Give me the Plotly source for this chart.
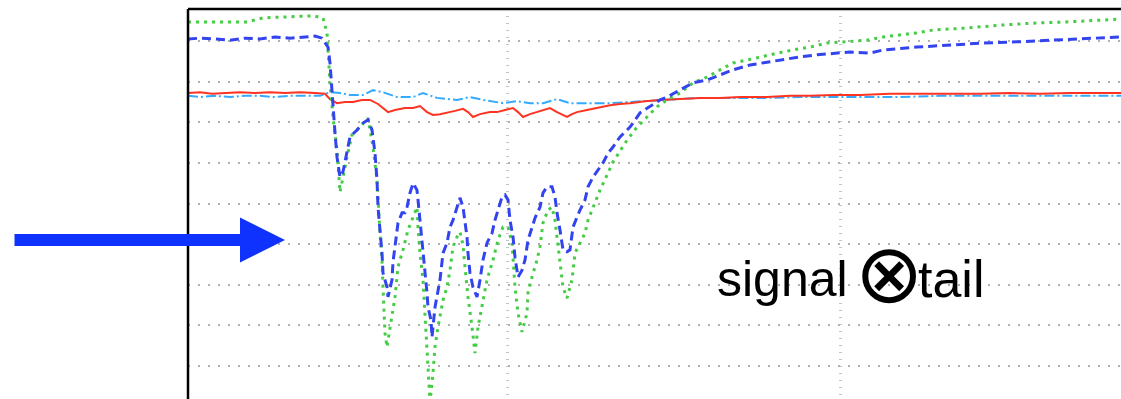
import plotly.graph_objects as go

# time (ms) and level values
blue_x = [4.2, 7.8, 12.3, 16.8, 21.3, 25.8, 30.3, 34.8, 39.3, 42.3, 44.4, 46.2, 46.8, 47.4, 48.0, 48.3, 48.9, 49.8,
          50.7, 51.9, 52.8, 54.9, 56.7, 58.2, 59.4, 60.3, 60.9, 61.2, 61.8, 62.4, 62.7, 63.9, 64.2, 65.4, 65.7,
          66.3, 67.2, 68.4, 69.3, 69.9, 70.8, 71.7, 72.9, 73.2, 73.8, 74.7, 75.3, 75.9, 76.2, 77.1, 77.4, 78.3,
          79.8, 80.7, 81.9, 82.8, 83.7, 84.9, 85.8, 86.7, 87.3, 87.9, 88.2, 88.8, 89.7, 90.9, 91.8, 92.7, 93.9,
          95.4, 96.3, 97.2, 98.4, 99.3, 100.2, 100.8, 101.7, 102.3, 103.2, 104.4, 105.3, 106.2, 107.4, 108.3,
          109.8, 110.7, 111.9, 113.4, 114.3, 114.9, 115.8, 116.7, 117.9, 118.8, 119.7, 120.9, 121.8, 123.3,
          124.2, 125.7, 127.2, 128.7, 130.2, 131.7, 133.8, 136.8, 139.8, 142.8, 145.8, 147.9, 151.8, 155.7,
          159.9, 163.8, 167.7, 172.8, 177.9, 182.7, 187.8, 192.9, 197.7, 202.8, 208.8, 212.7, 222.9, 232.8,
          242.7, 252.9, 262.8, 272.7, 284.1]
blue_y = [80.5, 80.7, 80.5, 80.2, 80.7, 80.5, 81.0, 80.7, 81.0, 81.2, 80.7, 78.5, 74.6, 67.2, 58.8, 57.4, 51.4, 46.5,
          47.8, 52.4, 56.4, 58.1, 59.8, 60.6, 58.1, 52.4, 45.8, 39.1, 34.2, 27.8, 22.9, 19.4, 17.0, 21.2, 25.6,
          29.3, 35.2, 37.7, 37.7, 39.1, 42.6, 45.0, 43.3, 40.9, 35.9, 29.3, 22.9, 18.0, 14.5, 11.3, 7.1, 14.5,
          21.2, 27.8, 30.3, 34.2, 35.9, 39.1, 41.4, 39.1, 35.9, 31.8, 27.8, 22.9, 19.4, 17.0, 21.2, 26.1, 30.3,
          32.7, 35.9, 38.4, 41.6, 42.1, 40.9, 35.9, 31.8, 26.8, 21.9, 23.6, 26.1, 31.0, 34.2, 36.4,
          39.1, 42.6, 44.1, 44.1, 41.6, 37.7, 33.5, 28.6, 28.1, 28.6, 34.2, 36.7, 38.4, 40.9,
          44.1, 46.5, 48.2, 50.0, 52.4, 53.9, 56.4, 58.8, 62.3, 63.8, 65.5, 66.2, 67.9, 69.7,
          70.4, 71.6, 72.9, 74.1, 74.8, 75.3, 76.1, 76.6, 77.0, 77.3, 77.0, 77.8, 78.5, 79.0,
          79.5, 79.8, 80.2, 80.5, 81.0]

green_x = [4.2, 11.7, 21.9, 26.7, 33.9, 41.7, 44.7, 45.9, 46.8, 47.7, 48.9, 49.8, 51.9, 53.4, 54.9, 56.7, 58.2,
           59.7, 60.9, 61.8, 62.4, 62.7, 63.0, 63.3, 63.9, 64.8, 66.3, 67.2, 68.7, 70.2, 71.7, 72.9, 73.2, 73.8,
           74.7, 75.3, 75.9, 76.2, 76.8, 77.7, 78.3, 79.2, 80.7, 81.9, 82.8, 83.7, 84.9, 85.8, 86.7, 87.3, 88.2,
           89.4, 90.3, 91.2, 92.4, 93.9, 95.7, 97.2, 98.7, 100.2, 101.4, 101.7, 102.3, 103.2, 104.4, 105.9,
           106.2, 107.4, 108.9, 109.8, 110.7, 112.2, 113.4, 114.3, 114.9, 115.8, 116.7, 117.9, 119.4, 120.3,
           121.8, 123.3, 124.2, 125.7, 127.8, 129.9, 131.7, 133.8, 135.9, 138.9, 141.9, 144.9, 147.9, 151.8,
           155.7, 159.9, 163.8, 167.7, 171.9, 175.8, 180.9, 185.7, 190.8, 195.9, 201.9, 207.9, 212.7, 217.8,
           222.9, 227.7, 237.9, 247.8, 257.7, 267.9, 277.8, 284.1]
green_y = [84.7, 84.7, 84.7, 85.7, 85.9, 86.2, 85.7, 82.0, 69.7, 61.3, 53.2, 42.8, 51.4, 56.9, 58.1, 59.8, 61.0,
           53.9, 45.8, 32.7, 26.1, 19.4, 13.0, 8.1, 4.7, 9.6, 17.0, 24.4, 28.6, 33.5, 36.7, 39.1, 34.2, 27.8,
           21.2, 13.0, 4.7, -1.7, -8.9, -1.7, 4.7, 9.6, 16.2, 19.4, 23.6, 29.3, 31.8, 33.0, 29.8, 24.4, 17.0,
           9.6, 3.2, 9.6, 14.5, 21.2, 26.1, 31.0, 34.2, 34.2, 30.3, 26.1, 19.4, 13.0, 8.4, 13.0,
           18.0, 21.9, 26.1, 29.3, 35.2, 38.4, 39.1, 35.9, 31.8, 24.4, 19.4, 16.7, 21.2, 27.8,
           30.3, 32.7, 35.9, 39.1, 43.3, 47.0, 50.2, 52.9, 55.6, 58.8, 61.3, 63.8, 65.5, 67.2,
           69.7, 71.1, 72.9, 74.6, 75.3, 76.1, 77.0, 77.8, 78.5, 79.5, 79.8, 80.2, 81.0, 81.5,
           82.0, 82.7, 83.2, 83.9, 84.4, 84.7, 85.2, 85.4]

red_x = [4.2, 7.8, 11.4, 15.3, 19.8, 24.3, 28.8, 33.3, 37.8, 42.3, 45.3, 46.8, 48.9, 51.3, 53.7, 56.4, 58.8, 61.2,
         62.7, 64.2, 66.3, 69.3, 71.7, 73.8, 75.9, 77.7, 79.8, 81.9, 84.3, 86.7, 88.2, 89.7, 91.8, 94.8, 96.9,
         99.3, 101.7, 103.2, 104.7, 106.8, 108.9, 111.3, 112.8, 114.9, 116.7, 117.9, 119.4, 120.9, 123.9, 126.9,
         130.8, 133.8, 136.8, 141.3, 145.8, 151.8, 157.8, 163.8, 169.8, 177.9, 184.8, 190.8, 197.7, 205.8,
         214.8, 223.8, 232.8, 241.8, 250.8, 259.8, 268.8, 277.8, 284.1]
red_y = [67.2, 67.4, 67.0, 67.2, 67.4, 67.2, 67.4, 67.2, 67.4, 67.2, 67.0, 65.7, 64.7, 65.0, 65.0, 65.5, 65.5, 64.5,
         63.5, 62.5, 63.0, 63.5, 63.5, 64.0, 62.5, 61.8, 62.0, 62.3, 62.8, 63.3, 62.5, 61.3, 62.0, 62.5, 62.5,
         63.0, 63.5, 62.5, 61.3, 62.0, 62.5, 63.0, 63.5, 62.5, 61.8, 61.3, 62.0, 62.5, 63.0, 63.5,
         64.2, 64.5, 64.7, 65.2, 65.5, 65.7, 66.0, 66.0, 66.2, 66.2, 66.5, 66.5, 66.7, 66.7,
         67.0, 67.0, 67.0, 67.0, 67.2, 67.0, 67.2, 67.2, 67.2]

cyan_x = [4.2, 7.8, 12.3, 16.8, 21.3, 25.8, 30.3, 34.8, 39.3, 43.8, 46.8, 49.8, 52.8, 56.7, 59.7, 62.7, 66.9, 71.7,
          74.7, 78.9, 84.9, 88.8, 92.7, 98.7, 102.9, 106.8, 110.7, 114.9, 118.8, 124.8, 130.8, 136.8, 145.8,
          157.8, 169.8, 177.9, 187.8, 197.7, 208.8, 217.8, 229.8, 241.8, 253.8, 265.8, 277.8, 284.1]
cyan_y = [66.5, 66.2, 66.5, 66.2, 66.5, 66.5, 66.2, 66.5, 66.5, 66.5, 67.4, 67.2, 66.7, 66.7, 67.9, 67.4, 66.2, 66.2,
          67.2, 66.0, 65.5, 66.2, 65.5, 64.7, 65.2, 64.7, 64.7, 65.7, 64.7, 64.7, 64.7, 65.0, 65.5,
          66.0, 66.0, 66.0, 66.2, 66.2, 66.2, 66.2, 66.5, 66.5, 66.5, 66.5, 66.5, 66.5]

label_left = "signal"
label_mid = "⊗"
label_right = "tail"

fig = go.Figure()
fig.add_trace(go.Scatter(x=cyan_x, y=cyan_y, mode="lines",
                         line=dict(color="#33aaff", width=2, dash="10px,3px,2px,3px")))
fig.add_trace(go.Scatter(x=red_x, y=red_y, mode="lines",
                         line=dict(color="#ff3322", width=2)))
fig.add_trace(go.Scatter(x=green_x, y=green_y, mode="lines",
                         line=dict(color="#44cc44", width=3, dash="3px,5px")))
fig.add_trace(go.Scatter(x=blue_x, y=blue_y, mode="lines",
                         line=dict(color="#3344ee", width=3, dash="9px,5px")))

fig.update_layout(
    width=1121, height=399, autosize=False,
    margin=dict(l=188, r=0, t=9, b=0),
    paper_bgcolor="white", plot_bgcolor="white",
    showlegend=False,
    xaxis=dict(range=[4.2, 284.1], tick0=0, dtick=100, showticklabels=False, ticks="",
               showgrid=True, gridcolor="#c4c4c4", gridwidth=3, griddash="1px,6px",
               zeroline=False, showline=False),
    yaxis=dict(range=[-8.12, 87.88], tick0=0, dtick=10, showticklabels=False, ticks="",
               showgrid=True, gridcolor="#b0b0b0", gridwidth=2, griddash="2px,8px",
               zeroline=False, showline=False),
    shapes=[
        dict(type="line", xref="paper", yref="paper", x0=0, x1=1, y0=1, y1=1,
             line=dict(color="black", width=2.5), layer="above"),
        dict(type="line", xref="paper", yref="paper", x0=0, x1=0, y0=0, y1=1,
             line=dict(color="black", width=2.5), layer="above"),
    ],
    annotations=[
        dict(x=33.3, y=31.0, xref="x", yref="y", text="", showarrow=True,
             ax=-272, ay=0, arrowhead=2, arrowwidth=12, arrowsize=0.75,
             arrowcolor="#0f32ff", standoff=0),
        dict(x=202.8, y=21.4, xref="x", yref="y", text=label_left, showarrow=False,
             xanchor="right", yanchor="middle",
             font=dict(family="Liberation Sans, Arial, sans-serif", size=50, color="black")),
        dict(x=214.5, y=22.8, xref="x", yref="y", text=label_mid, showarrow=False,
             xanchor="center", yanchor="middle",
             font=dict(family="DejaVu Sans, sans-serif", size=82, color="black")),
        dict(x=222.6, y=21.4, xref="x", yref="y", text=label_right, showarrow=False,
             xanchor="left", yanchor="middle",
             font=dict(family="Liberation Sans, Arial, sans-serif", size=52, color="black")),
    ],
)

fig.write_html("out.html")
